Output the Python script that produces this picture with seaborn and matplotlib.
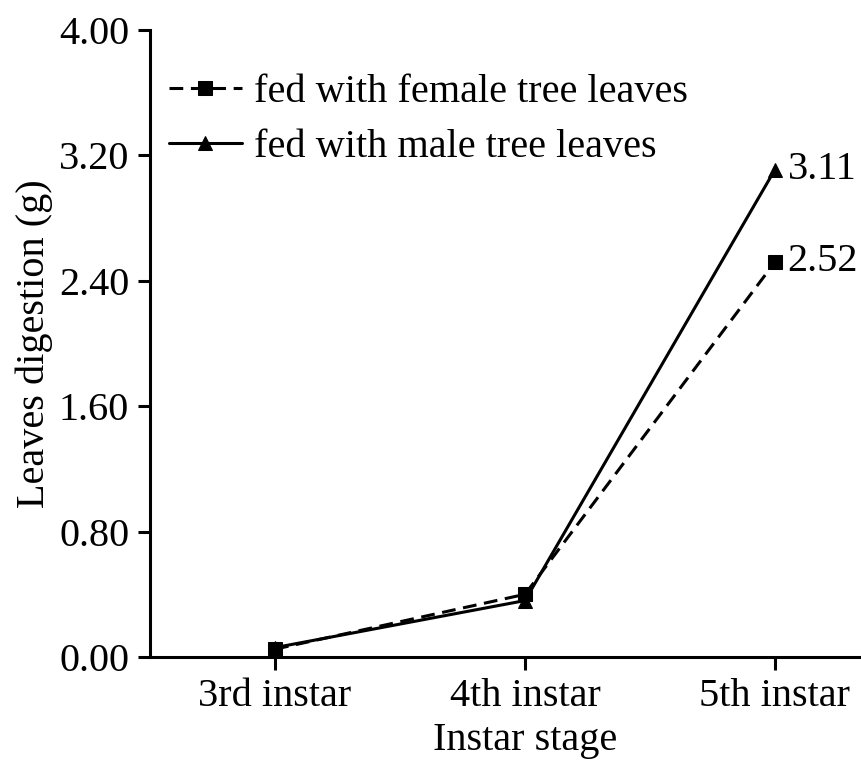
import matplotlib
matplotlib.use("Agg")
import matplotlib.pyplot as plt
import seaborn as sns
import pandas as pd

# data
stages = ["3rd instar", "4th instar", "5th instar"]
female = [0.05, 0.40, 2.52]
male = [0.06, 0.36, 3.11]
y_ticks = [0.00, 0.80, 1.60, 2.40, 3.20, 4.00]

sns.set_theme(style="ticks")
plt.rcParams["font.family"] = ["Liberation Serif", "DejaVu Serif"]
plt.rcParams.update({"axes.linewidth": 2.2, "axes.edgecolor": "black",
                     "text.color": "black", "axes.labelcolor": "black",
                     "xtick.color": "black", "ytick.color": "black"})

df = pd.DataFrame({"x": list(range(len(stages))) * 2,
                   "value": female + male,
                   "group": ["fed with female tree leaves"] * 3 + ["fed with male tree leaves"] * 3})

fig = plt.figure(figsize=(8.61, 7.63), dpi=100)
ax = fig.add_axes([150 / 861, 106 / 763, 750 / 861, 627 / 763])

sns.lineplot(data=df, x="x", y="value", style="group",
             markers={"fed with female tree leaves": "s", "fed with male tree leaves": "^"},
             dashes={"fed with female tree leaves": (4.5, 2.5), "fed with male tree leaves": ""},
             color="black", linewidth=2.2, markersize=10, markeredgecolor="black",
             ax=ax, clip_on=False)

# value labels at the 5th instar
ax.text(2.05, male[2], f"{male[2]:.2f}", fontsize=29, va="center", ha="left")
ax.text(2.05, female[2], f"{female[2]:.2f}", fontsize=29, va="center", ha="left")

ax.set_xlim(-0.5, 2.5)
ax.set_ylim(0, 4.0)
ax.set_xticks(range(len(stages)))
ax.set_xticklabels(stages)
ax.set_yticks(y_ticks)
ax.set_yticklabels([f"{v:.2f}" for v in y_ticks])
ax.tick_params(labelsize=29, length=9, width=2.2, direction="out", pad=6)
ax.set_xlabel("Instar stage", fontsize=29, labelpad=5)
ax.set_ylabel("Leaves digestion (g)", fontsize=29, labelpad=4)
sns.despine(ax=ax)

leg = ax.legend(loc="upper left", bbox_to_anchor=(-0.012, 0.975), frameon=False,
                fontsize=29, handlelength=1.8, handletextpad=0.3,
                labelspacing=0.45, borderaxespad=0.3)

fig.savefig("out.png", dpi=100)
